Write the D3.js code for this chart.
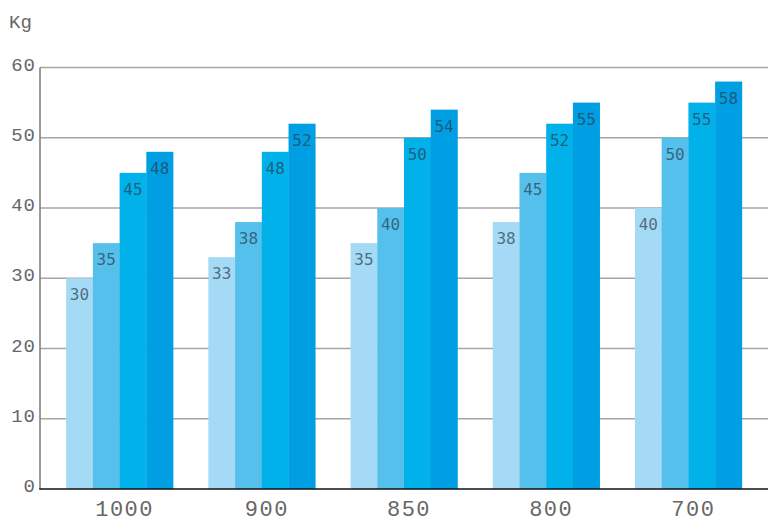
<!DOCTYPE html>
<html>
<head>
<meta charset="utf-8">
<script src="https://cdn.jsdelivr.net/npm/d3@7"></script>
<style>
  html, body { margin: 0; padding: 0; background: #fff; }
  svg { display: block; }
</style>
</head>
<body>
<svg id="chart" width="768" height="522"></svg>
<script>
const categories = ["1000", "900", "850", "800", "700"];
const series1 = [30, 33, 35, 38, 40];
const series2 = [35, 38, 40, 45, 50];
const series3 = [45, 48, 50, 52, 55];
const series4 = [48, 52, 54, 55, 58];
const yTicks = [0, 10, 20, 30, 40, 50, 60];
const unitLabel = "Kg";

const seriesList = [series1, series2, series3, series4];
const colors = ["#a4daf6", "#56c0ec", "#00b1ea", "#009fe3"];

const svg = d3.select("#chart");
const axisX = 40, right = 768;
const y = d3.scaleLinear().domain([0, 60]).range([489, 67.5]);
const x0 = d3.scaleBand().domain(categories).range([48.5, 759.5]).paddingInner(0.248).paddingOuter(0.124);
const x1 = d3.scaleBand().domain(d3.range(seriesList.length)).range([0, x0.bandwidth()]);

// gridlines
svg.append("g").selectAll("line").data(yTicks.filter(d => d > 0)).join("line")
  .attr("x1", axisX).attr("x2", right)
  .attr("y1", d => y(d)).attr("y2", d => y(d))
  .attr("stroke", "#a6a6a6").attr("stroke-width", 1.5);

// y tick labels
svg.append("g").selectAll("text").data(yTicks).join("text")
  .attr("x", 36).attr("y", d => y(d) + 3)
  .attr("text-anchor", "end")
  .attr("font-family", "Liberation Mono, monospace")
  .attr("font-size", 19)
  .attr("letter-spacing", 1)
  .attr("fill", "#666")
  .text(d => d);

// unit label
svg.append("text").attr("x", 9).attr("y", 28)
  .attr("font-family", "Liberation Mono, monospace")
  .attr("font-size", 19).attr("fill", "#666").text(unitLabel);

// bars
const groups = svg.append("g").selectAll("g").data(categories).join("g")
  .attr("transform", d => `translate(${x0(d)},0)`);

groups.each(function(cat, ci) {
  const g = d3.select(this);
  seriesList.forEach((s, si) => {
    const v = s[ci];
    g.append("rect")
      .attr("x", x1(si)).attr("y", y(v))
      .attr("width", x1.bandwidth() + 0.3).attr("height", y(0) - y(v))
      .attr("fill", colors[si]);
    g.append("text")
      .attr("x", x1(si) + x1.bandwidth() / 2).attr("y", y(v) + 22)
      .attr("text-anchor", "middle")
      .attr("font-family", "DejaVu Sans Mono, monospace")
      .attr("font-size", 16)
      .attr("fill", "#2b3a4a").attr("fill-opacity", 0.7)
      .text(v);
  });
});

// axes lines
svg.append("line").attr("x1", axisX).attr("x2", axisX).attr("y1", y(60)).attr("y2", y(0))
  .attr("stroke", "#7a7a7a").attr("stroke-width", 1.5);
svg.append("line").attr("x1", axisX - 0.75).attr("x2", right).attr("y1", y(0)).attr("y2", y(0))
  .attr("stroke", "#111").attr("stroke-width", 1.5);

// x labels
svg.append("g").selectAll("text").data(categories).join("text")
  .attr("x", d => x0(d) + x0.bandwidth() / 2 + 5).attr("y", 516)
  .attr("text-anchor", "middle")
  .attr("font-family", "Liberation Mono, monospace")
  .attr("font-size", 22)
  .attr("letter-spacing", 1.5)
  .attr("fill", "#666")
  .text(d => d);
</script>
</body>
</html>
